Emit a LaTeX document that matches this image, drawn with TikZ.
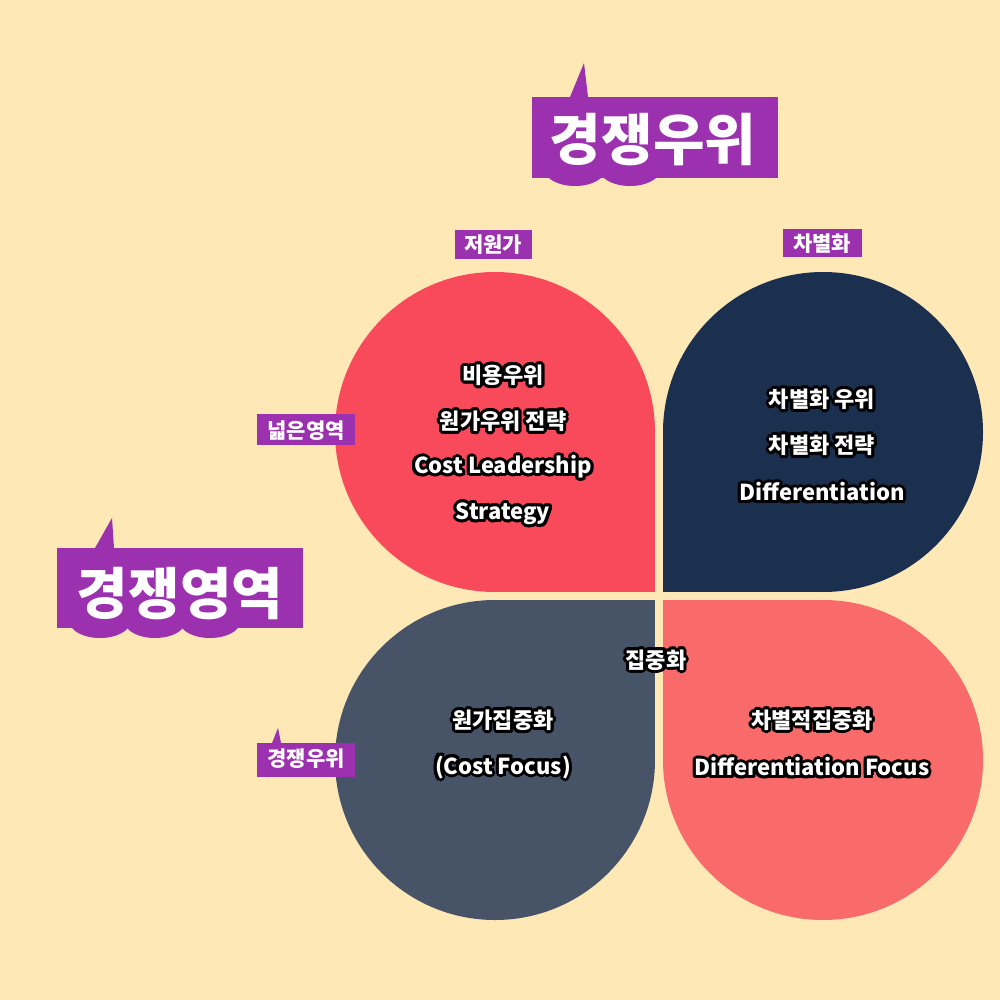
\documentclass[tikz,border=0pt]{standalone}
\usepackage{fontspec}
\setmainfont{Noto Sans CJK KR}
\definecolor{bgc}{HTML}{FDE8B6}
\definecolor{purp}{HTML}{9C31AF}
\definecolor{pred}{HTML}{F94A5B}
\definecolor{pnavy}{HTML}{1B2F4F}
\definecolor{pslate}{HTML}{475467}
\definecolor{pcoral}{HTML}{F96A6A}
\newcommand\olt[1]{\leavevmode\hbox{\foreach \a in {0,22.5,...,337.5}{\pgfmathsetlengthmacro\dx{1.5pt*cos(\a)}\pgfmathsetlengthmacro\dy{1.5pt*sin(\a)}\rlap{\kern\dx\raisebox{\dy}{\color{black}#1}}}\color{white}#1}}
\begin{document}
\begin{tikzpicture}[x=0.5pt,y=-0.5pt,
  ptxt/.style={font=\bfseries\fontsize{11}{13}\selectfont, inner sep=0pt},
  lbl/.style={font=\bfseries\fontsize{10.5}{12}\selectfont, text=white, inner sep=0pt},
  big/.style={font=\bfseries\fontsize{28}{30}\selectfont, text=white, inner sep=0pt}]
\useasboundingbox (0,0) rectangle (1000,1000);
\fill[bgc] (0,0) rectangle (1000,1000);
% petals
\fill[pred] (495,432) circle[radius=160]; \fill[pred] (495,432) rectangle (655,592);
\fill[pnavy] (823,432) circle[radius=160]; \fill[pnavy] (663,432) rectangle (823,592);
\fill[pslate] (495,760) circle[radius=160]; \fill[pslate] (495,600) rectangle (655,760);
\fill[pcoral] (823,760) circle[radius=160]; \fill[pcoral] (663,600) rectangle (823,760);
% big label: title
\fill[purp] (532,97) rectangle (778,178);
\fill[purp] (570,97) -- (584,63) -- (588,97) -- cycle;
\fill[purp] (575,170) ellipse[x radius=30, y radius=16];
\fill[purp] (630,170) ellipse[x radius=30, y radius=16];
\node[big] (title) at (653,140) {경쟁우위};
% big label: left
\fill[purp] (57,548) rectangle (303,628);
\fill[purp] (95,548) -- (112,518) -- (114,548) -- cycle;
\fill[purp] (100,622) ellipse[x radius=30, y radius=16];
\fill[purp] (155,622) ellipse[x radius=30, y radius=16];
\fill[purp] (210,622) ellipse[x radius=30, y radius=16];
\node[big] (left) at (180,594) {경쟁영역};
% small labels
\fill[purp] (455,230) rectangle (532,259);
\node[lbl] (l1) at (493,245) {저원가};
\fill[purp] (783,229) rectangle (862,257);
\node[lbl] (l2) at (822,244) {차별화};
\fill[purp] (257,414) rectangle (355,445);
\node[lbl] (l3) at (306,431) {넓은영역};
\fill[purp] (257,743) rectangle (355,777);
\fill[purp] (272,743) -- (278,728) -- (281,743) -- cycle;
\node[lbl] (l4) at (306,759) {경쟁우위};
% petal texts
\node[ptxt] (a1) at (503,375) {\olt{비용우위}};
\node[ptxt] (a2) at (503,421) {\olt{원가우위 전략}};
\node[ptxt] (a3) at (503,467) {\olt{Cost Leadership}};
\node[ptxt] (a4) at (503,514) {\olt{Strategy}};
\node[ptxt] (b1) at (822,399) {\olt{차별화 우위}};
\node[ptxt] (b2) at (822,445) {\olt{차별화 전략}};
\node[ptxt] (b3) at (822,492) {\olt{Differentiation}};
\node[ptxt] (c0) at (656,660) {\olt{집중화}};
\node[ptxt] (c1) at (503,720) {\olt{원가집중화}};
\node[ptxt] (c2) at (503,767) {\olt{(Cost Focus)}};
\node[ptxt] (d1) at (812,720) {\olt{차별적집중화}};
\node[ptxt] (d2) at (812,767) {\olt{Differentiation Focus}};
\end{tikzpicture}
\end{document}
